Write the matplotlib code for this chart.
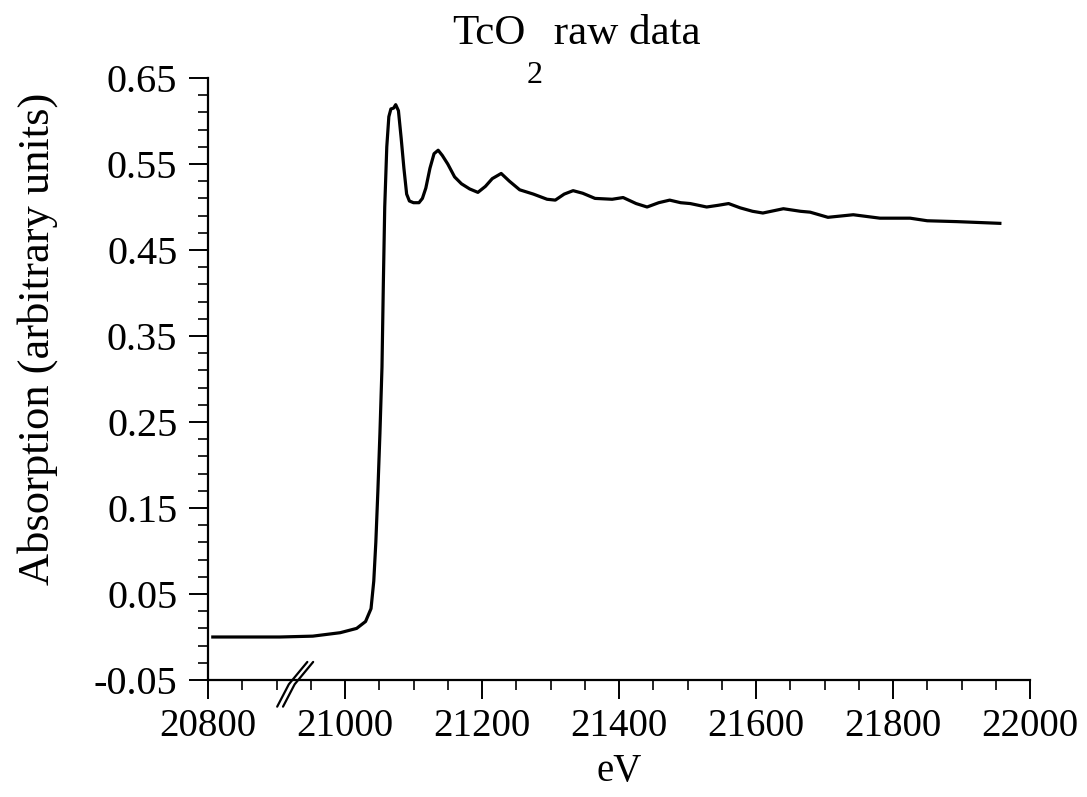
import numpy as np
import matplotlib
matplotlib.use("Agg")
import matplotlib.pyplot as plt
from matplotlib.ticker import FixedLocator, MultipleLocator

energy_eV = [20807, 20860, 20905, 20953, 20993, 21017, 21030, 21038, 21042, 21045,
             21048, 21051, 21054, 21056, 21058, 21061, 21064, 21067, 21071, 21074,
             21078, 21082, 21086, 21090, 21094, 21100, 21108, 21113, 21118, 21124,
             21130, 21136, 21142, 21150, 21160, 21170, 21182, 21194, 21205, 21215,
             21228, 21240, 21255, 21275, 21295, 21307, 21320, 21333, 21347, 21365,
             21390, 21406, 21425, 21441, 21458, 21474, 21490, 21504, 21528, 21545,
             21560, 21577, 21595, 21610, 21640, 21665, 21679, 21705, 21742, 21781,
             21825, 21850, 21893, 21956]
absorption = [0.000, 0.000, 0.000, 0.001, 0.005, 0.010, 0.018, 0.033, 0.065, 0.110,
              0.170, 0.237, 0.314, 0.412, 0.500, 0.570, 0.605, 0.614, 0.615, 0.619,
              0.612, 0.580, 0.545, 0.515, 0.507, 0.505, 0.505, 0.510, 0.522, 0.545,
              0.562, 0.566, 0.560, 0.550, 0.535, 0.527, 0.521, 0.517, 0.524, 0.533,
              0.539, 0.530, 0.520, 0.515, 0.509, 0.508, 0.515, 0.519, 0.516, 0.510,
              0.509, 0.511, 0.504, 0.500, 0.505, 0.508, 0.505, 0.504, 0.500, 0.502,
              0.504, 0.499, 0.495, 0.493, 0.498, 0.495, 0.494, 0.488, 0.491, 0.487,
              0.487, 0.484, 0.483, 0.481]

x_ticks = [20800, 21000, 21200, 21400, 21600, 21800, 22000]
y_ticks = [-0.05, 0.05, 0.15, 0.25, 0.35, 0.45, 0.55, 0.65]
y_tick_labels = ["-0.05", "0.05", "0.15", "0.25", "0.35", "0.45", "0.55", "0.65"]

plt.rcParams['font.family'] = ['Liberation Serif', 'DejaVu Serif']

fig = plt.figure(figsize=(10.87, 7.97), dpi=100)
ax = fig.add_axes([208/1087, 1-680/797, (1030-208)/1087, (680-78)/797])

ax.plot(energy_eV, absorption, color='black', lw=2.3, solid_joinstyle='round')

ax.set_xlim(20800, 22000)
ax.set_ylim(-0.05, 0.65)
ax.spines['top'].set_visible(False)
ax.spines['right'].set_visible(False)
ax.spines['left'].set_linewidth(1.6)
ax.spines['bottom'].set_linewidth(1.6)

ax.xaxis.set_major_locator(FixedLocator(x_ticks))
ax.xaxis.set_minor_locator(MultipleLocator(50))
ax.yaxis.set_major_locator(FixedLocator(y_ticks))
ax.set_yticklabels(y_tick_labels)
ax.yaxis.set_minor_locator(FixedLocator(np.round(np.arange(-0.05, 0.651, 0.02), 3)))

ax.tick_params(which='major', direction='out', length=14, width=1.4, pad=6)
ax.tick_params(axis='x', which='major', labelsize=28)
ax.tick_params(axis='y', which='major', labelsize=29, pad=8)
ax.tick_params(which='minor', direction='out', length=7, width=1.2)

ax.set_xlabel('eV', fontsize=28, labelpad=6)
ax.set_ylabel('Absorption (arbitrary units)', fontsize=32, labelpad=20)
ax.yaxis.set_label_coords(-0.183, 0.566)

# title with low subscript
t1 = fig.text(452/1087, 1-44/797, 'TcO', fontsize=31, ha='left', va='baseline')
t2 = ax.annotate('2', xy=(1, 0), xycoords=t1, xytext=(1, -6), textcoords='offset points',
                 fontsize=23, ha='left', va='top', annotation_clip=False)
t3 = ax.annotate(' raw data', xy=(1, 0), xycoords=t1, xytext=(13, 0), textcoords='offset points',
                 fontsize=31, ha='left', va='bottom', annotation_clip=False)

# axis break marks
for dx in (0, 8.5):
    bx = [20901 + dx, 20918 + dx, 20945 + dx]
    by = [-0.081, -0.055, -0.029]
    ax.plot(bx, by, color='black', lw=1.6, clip_on=False, solid_capstyle='round')

fig.savefig('out.png', dpi=100, facecolor='white')
